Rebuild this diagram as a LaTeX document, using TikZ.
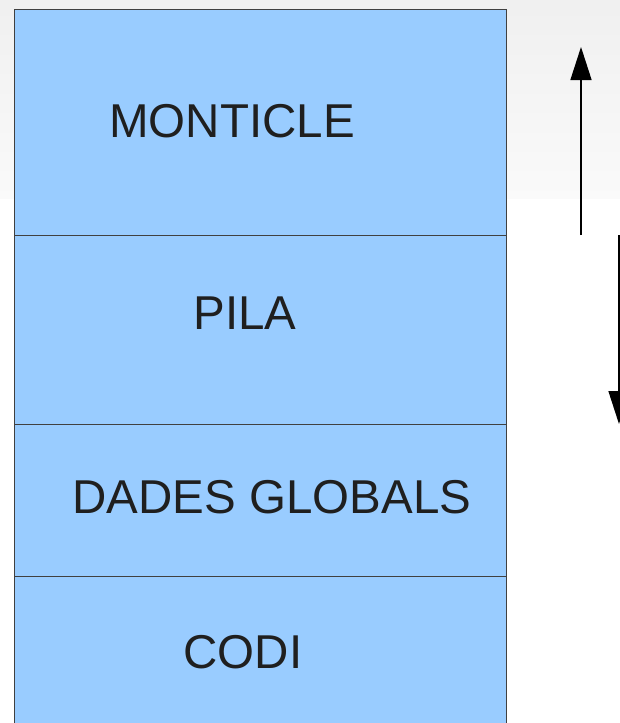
\documentclass[tikz,border=0pt]{standalone}
\usepackage{fontspec}
\setmainfont{Liberation Sans}
\usetikzlibrary{arrows.meta}
\begin{document}
\begin{tikzpicture}[x=1pt,y=-1pt,
  layer/.style={draw=black!75, line width=1pt, fill=memfill, anchor=north west, inner sep=0pt, outer sep=0pt},
  lbl/.style={font=\fontsize{47.5}{50}\selectfont, text=black!88, inner sep=0pt},
  arr/.style={line width=1.5pt, -{Triangle[length=33pt,width=21pt]}}]
\definecolor{memfill}{HTML}{99CCFF}
\useasboundingbox (0,0) rectangle (620,723);
\clip (0,0) rectangle (620,723);
\fill[white] (0,0) rectangle (620,723);
\shade[top color=black!6, bottom color=black!2] (0,0) rectangle (620,198);
\node[layer, minimum width=492pt, minimum height=226pt] (heap) at (14,9) {};
\node[layer, minimum width=492pt, minimum height=189pt] (stack) at (14,235) {};
\node[layer, minimum width=492pt, minimum height=152pt] (glob) at (14,424) {};
\node[layer, minimum width=492pt, minimum height=160pt] (code) at (14,576) {};
\node[lbl] (t1) at (232,121) {MONTICLE};
\node[lbl] (t2) at (245,313) {PILA};
\node[lbl] (t3) at (272,497) {DADES GLOBALS};
\node[lbl] (t4) at (243,652) {CODI};
\coordinate (upS) at (581,235);
\coordinate (upE) at (581,47);
\coordinate (dnS) at (619,235);
\coordinate (dnE) at (619,424);
\draw[arr] (upS) -- (upE);
\draw[arr] (dnS) -- (dnE);
\end{tikzpicture}
\end{document}
